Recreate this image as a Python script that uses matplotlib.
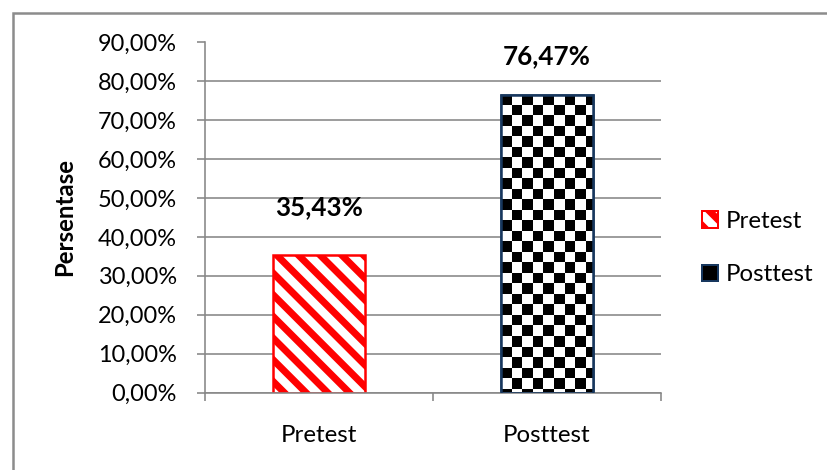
import math
import matplotlib
matplotlib.use('Agg')
import matplotlib.pyplot as plt
from matplotlib.patches import Rectangle
import numpy as np

# data
categories = ['Pretest', 'Posttest']
values = [0.3543, 0.7647]
yticks = [0.0, 0.1, 0.2, 0.3, 0.4, 0.5, 0.6, 0.7, 0.8, 0.9]
ylabel = 'Persentase'

DPI = 130
W, H = 827, 470


def pt(px):
    # pixels -> points at the output dpi
    return px * 72.0 / DPI


def pct(v):
    return ('%.2f' % (v * 100)).replace('.', ',') + '%'


plt.rcParams['font.family'] = ['Lato', 'DejaVu Sans']
plt.rcParams['hatch.linewidth'] = pt(7)

grid_col = '#878787'
red = '#FF0000'
navy = '#17375E'

fig = plt.figure(figsize=(W / DPI, H / DPI), dpi=DPI)
ax = fig.add_axes([205 / W, 1 - 392.5 / H, 456 / W, 350 / H])

# outer chart border (right/bottom edges fall outside the picture)
fig.patches.append(Rectangle((13 / W, -0.1), 1.2, 1 - 13 / H + 0.1, transform=fig.transFigure,
                             fill=False, edgecolor='#8c8c8c', linewidth=pt(2.5), zorder=0))

x = np.arange(len(categories))
ax.set_xlim(-0.5, len(categories) - 0.5)
ax.set_ylim(0, 0.9)

bars = ax.bar(x, values, width=0.4, zorder=2)
pre, post = bars[0], bars[1]
pre.set_facecolor('white')
pre.set_edgecolor(red)
pre.set_hatch('\\\\')
pre.set_linewidth(pt(2.5))

post.set_facecolor('white')
post.set_edgecolor(navy)
post.set_linewidth(pt(2.5))

# checkerboard fill for Posttest, clipped to the bar
cell_px = 10.5
px_x = ax.transData.transform((1, 0))[0] - ax.transData.transform((0, 0))[0]
px_y = ax.transData.transform((0, 1))[1] - ax.transData.transform((0, 0))[1]
cw, ch = cell_px / px_x, cell_px / px_y
x0 = post.get_x()
top = post.get_height()
ncol = math.ceil(post.get_width() / cw)
nrow = math.ceil(top / ch)
checker = np.add.outer(np.arange(nrow), np.arange(ncol)) % 2
im = ax.imshow(checker, cmap='gray', interpolation='nearest', aspect='auto', origin='upper',
               extent=(x0, x0 + ncol * cw, top - nrow * ch, top), zorder=2.5)
im.set_clip_path(post)
# outline drawn again on top of the pattern
ax.add_patch(Rectangle((x0, 0), post.get_width(), top, fill=False, edgecolor=navy,
                       linewidth=pt(2.5), zorder=3))
ax.set_xlim(-0.5, len(categories) - 0.5)
ax.set_ylim(0, 0.9)

# value labels
label_offsets = [47.5, 39]
for b, v, off in zip(bars, values, label_offsets):
    ax.annotate(pct(v), (b.get_x() + b.get_width() / 2, v), xytext=(0, pt(off)),
                textcoords='offset points', ha='center', va='center',
                fontsize=pt(26), fontweight='bold', color='black')

# axes styling
ax.set_yticks(yticks)
ax.set_yticklabels([pct(t) for t in yticks])
ax.yaxis.grid(True, color=grid_col, linewidth=pt(1.6))
ax.set_axisbelow(True)
for s in ['top', 'right']:
    ax.spines[s].set_visible(False)
for s in ['left', 'bottom']:
    ax.spines[s].set_color(grid_col)
    ax.spines[s].set_linewidth(pt(1.6))
ax.tick_params(axis='y', direction='out', length=pt(8), width=pt(1.6), color=grid_col,
               pad=pt(20), labelsize=pt(23.5))
ax.set_xticks(x)
ax.set_xticklabels(categories)
ax.tick_params(axis='x', which='major', length=0, pad=pt(33), labelsize=pt(24))
ax.set_xticks(np.arange(len(categories) + 1) - 0.5, minor=True)
ax.tick_params(axis='x', which='minor', direction='out', length=pt(8), width=pt(1.6), color=grid_col)

fig.text(65 / W, 1 - 217 / H, ylabel, rotation=90, ha='center', va='center',
         fontsize=pt(24), fontweight='bold')

# legend
h_pre = Rectangle((0, 0), 1, 1, facecolor='white', edgecolor=red, hatch='\\\\', linewidth=pt(2))
h_post = Rectangle((0, 0), 1, 1, facecolor='black', edgecolor=navy, linewidth=pt(2))
fig.legend([h_pre, h_post], categories, loc='center left', bbox_to_anchor=(702 / W, 1 - 248 / H),
           frameon=False, borderpad=0, borderaxespad=0, handlelength=0.67, handleheight=0.67,
           handletextpad=0.3, labelspacing=1.35, fontsize=pt(24))

fig.savefig('out.png', dpi=DPI)
